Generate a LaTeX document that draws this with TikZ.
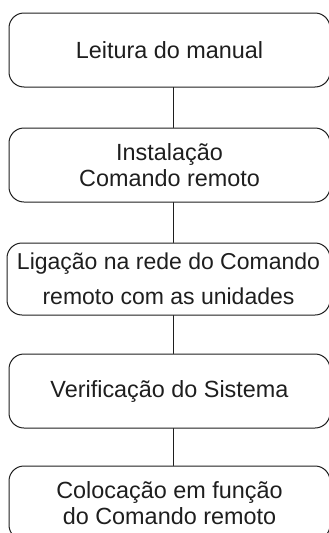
\documentclass[tikz,border=0pt]{standalone}
\usepackage{fontspec}
\setmainfont{Liberation Sans}
\definecolor{ink}{HTML}{1E1E1E}
\tikzset{stepbox/.style={draw=ink, line width=1pt, rounded corners=15pt,
    minimum width=321pt, minimum height=74pt, inner sep=0pt, align=center,
    text=ink, font=\fontsize{23.4}{26}\selectfont}}

\begin{document}
\begin{tikzpicture}[x=1pt, y=-1pt, line cap=round]
\useasboundingbox (0,0) rectangle (329,533);

% ================= the five steps =================
\node[stepbox] (leitura) at (169.5,50) {Leitura do manual};
\node[stepbox] (instal) at (169.5,165) {Instalação\\Comando remoto};
\node[stepbox, minimum width=323pt, minimum height=72pt,
      font=\fontsize{23}{35}\selectfont] (ligacao) at (168.5,279) {Ligação na rede do Comando\\remoto com as unidades};
\node[stepbox] (verif) at (169.5,391) {Verificação do Sistema};
\node[stepbox] (coloc) at (169.5,503) {Colocação em função\\do Comando remoto};

% ================= links (a bit right of the text centre) =================
\coordinate (spine) at (173,0);
\foreach \a/\b in {leitura/instal, instal/ligacao, ligacao/verif, verif/coloc}
  \draw[ink, line width=1pt] (\a.south -| spine) -- (\b.north -| spine);

\end{tikzpicture}
\end{document}
